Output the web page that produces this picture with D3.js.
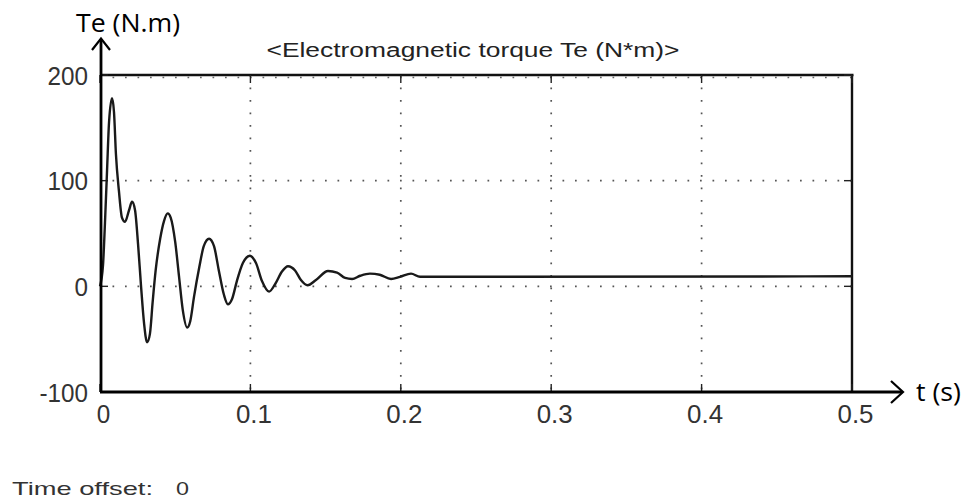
<!DOCTYPE html>
<html>
<head>
<meta charset="utf-8">
<script src="https://cdn.jsdelivr.net/npm/d3@7"></script>
<style>
html,body{margin:0;padding:0;background:#fff;}
svg{display:block;}
</style>
</head>
<body>
<svg id="chart" width="965" height="501"></svg>
<script>
// ---- data ----
const timeS = [0,0.002,0.0033,0.0047,0.006,0.008,0.0093,0.0106,0.0126,0.0146,0.0166,0.0193,0.0213,0.0233,0.0253,0.0273,0.0293,0.0313,0.0332,0.035,0.037,0.04,0.0426,0.045,0.047,0.05,0.0525,0.055,0.058,0.06,0.0625,0.066,0.069,0.0725,0.0758,0.079,0.0824,0.085,0.0878,0.091,0.095,0.0997,0.1037,0.1077,0.1124,0.1164,0.121,0.125,0.1297,0.1336,0.138,0.1436,0.1516,0.1576,0.163,0.1676,0.173,0.1795,0.186,0.1935,0.1995,0.2068,0.2128,0.5];
const torque = [0,20,60,110,155,178,165,125,90,65,61,72,80,72,40,0,-35,-53,-45,-15,15,45,62,69,65,42,10,-22,-39,-33,-10,18,38,45,38,15,-8,-17,-12,5,22,29,22,5,-5,2,14,19,15,6,1,6,14.5,13,8,7,10,12,11,7,9,12,9,9.5];
const xTicks = [0,0.1,0.2,0.3,0.4,0.5];
const xTickLabels = ["0","0.1","0.2","0.3","0.4","0.5"];
const yTicks = [-100,0,100,200];
const yTickLabels = ["-100","0","100","200"];
const titleText = "<Electromagnetic torque Te (N*m)>";
const yAxisName = "Te (N.m)";
const xAxisName = "t (s)";
const footerLabel = "Time offset:";
const footerValue = "0";

const svg = d3.select("#chart");
const L = 100, R = 852, T = 75, B = 392;
const x = d3.scaleLinear().domain([0,0.5]).range([L,R]);
const y = d3.scaleLinear().domain([-100,200]).range([B,T]);
const tickFont = "Liberation Sans, Arial, sans-serif";
const labelWidth = s => s.split("").reduce((a,c)=> a + (c==="." ? 9 : c==="-" ? 8 : 13.5), 0);

// grid (dotted)
const grid = svg.append("g");
grid.selectAll("line.v").data(xTicks.slice(1,-1)).join("line")
  .attr("x1",d=>x(d)).attr("x2",d=>x(d)).attr("y1",T).attr("y2",B)
  .attr("stroke","#555").attr("stroke-width",1.7).attr("stroke-dasharray","1.7,10.8");
grid.selectAll("line.h").data(yTicks.slice(1,-1)).join("line")
  .attr("x1",L).attr("x2",R).attr("y1",d=>y(d)).attr("y2",d=>y(d))
  .attr("stroke","#555").attr("stroke-width",1.7).attr("stroke-dasharray","1.7,10.8");
svg.append("line").attr("x1",L).attr("x2",R).attr("y1",T+2.5).attr("y2",T+2.5)
  .attr("stroke","#666").attr("stroke-width",1.5).attr("stroke-dasharray","1.7,10.8");

// frame top / right
svg.append("line").attr("x1",L).attr("x2",R+1.5).attr("y1",T).attr("y2",T).attr("stroke","#111").attr("stroke-width",2.4);
svg.append("line").attr("x1",R).attr("x2",R).attr("y1",T).attr("y2",B).attr("stroke","#111").attr("stroke-width",2.4);

// inner ticks
const tk = svg.append("g").attr("stroke","#222").attr("stroke-width",1.4);
xTicks.forEach(d=>{
  tk.append("line").attr("x1",x(d)).attr("x2",x(d)).attr("y1",T).attr("y2",T+8);
  tk.append("line").attr("x1",x(d)).attr("x2",x(d)).attr("y1",B).attr("y2",B-8);
});
yTicks.forEach(d=>{
  tk.append("line").attr("x1",L).attr("x2",L+8).attr("y1",y(d)).attr("y2",y(d));
  tk.append("line").attr("x1",R).attr("x2",R-8).attr("y1",y(d)).attr("y2",y(d));
});

// axes via d3 (labels only)
const xAxis = d3.axisBottom(x).tickValues(xTicks).tickFormat((d,i)=>xTickLabels[i]).tickSize(0).tickPadding(13);
const gx = svg.append("g").attr("transform",`translate(3,${B})`).call(xAxis);
gx.select(".domain").remove();
gx.selectAll("text").attr("font-family",tickFont).attr("font-size",25).attr("fill","#333")
  .attr("textLength",function(){return labelWidth(this.textContent);}).attr("lengthAdjust","spacingAndGlyphs");
const yAxis = d3.axisLeft(y).tickValues(yTicks).tickFormat((d,i)=>yTickLabels[i]).tickSize(0).tickPadding(12);
const gy = svg.append("g").attr("transform",`translate(${L},1)`).call(yAxis);
gy.select(".domain").remove();
gy.selectAll("text").attr("font-family",tickFont).attr("font-size",25).attr("fill","#333")
  .attr("textLength",function(){return labelWidth(this.textContent);}).attr("lengthAdjust","spacingAndGlyphs");

// curve
const data = timeS.map((t,i)=>({t, v:torque[i]}));
const lineGen = d3.line().x(d=>x(d.t)).y(d=>y(d.v)).curve(d3.curveMonotoneX);
svg.append("path").datum(data)
  .attr("d", lineGen)
  .attr("fill","none").attr("stroke","#1a1a1a").attr("stroke-width",2.4).attr("stroke-linejoin","round");

// arrows (black axis lines)
const ax = svg.append("g").attr("stroke","#000").attr("fill","none").attr("stroke-width",2.8);
ax.append("line").attr("x1",L+1).attr("x2",L+1).attr("y1",B).attr("y2",39);
ax.append("polyline").attr("points",`${L-8},50 ${L+1},38.5 ${L+10},50`).attr("stroke-width",2.2);
ax.append("line").attr("x1",L).attr("x2",902).attr("y1",B).attr("y2",B);
ax.append("polyline").attr("points",`891,${B-11} 903,${B} 891,${B+11}`).attr("stroke-width",2.2);

// texts
svg.append("text").attr("x",473).attr("y",57).attr("text-anchor","middle")
  .attr("font-family","Liberation Sans, Arial, sans-serif").attr("font-size",20).attr("fill","#222")
  .attr("textLength",413).attr("lengthAdjust","spacingAndGlyphs").text(titleText);
svg.append("text").attr("x",76).attr("y",32)
  .attr("font-family","Open Sans, Liberation Sans, sans-serif").attr("font-size",25).attr("fill","#000")
  .attr("textLength",104).attr("lengthAdjust","spacingAndGlyphs")
  .text(yAxisName);
svg.append("text").attr("x",916).attr("y",401)
  .attr("font-family","Open Sans, Liberation Sans, sans-serif").attr("font-size",25).attr("fill","#000")
  .attr("textLength",45).attr("lengthAdjust","spacingAndGlyphs")
  .text(xAxisName);
svg.append("text").attr("x",12).attr("y",495)
  .attr("font-family",tickFont).attr("font-size",19).attr("fill","#333")
  .attr("textLength",141).attr("lengthAdjust","spacingAndGlyphs")
  .text(footerLabel);
svg.append("text").attr("x",176).attr("y",495)
  .attr("font-family",tickFont).attr("font-size",19).attr("fill","#333")
  .attr("textLength",13).attr("lengthAdjust","spacingAndGlyphs")
  .text(footerValue);
</script>
</body>
</html>
